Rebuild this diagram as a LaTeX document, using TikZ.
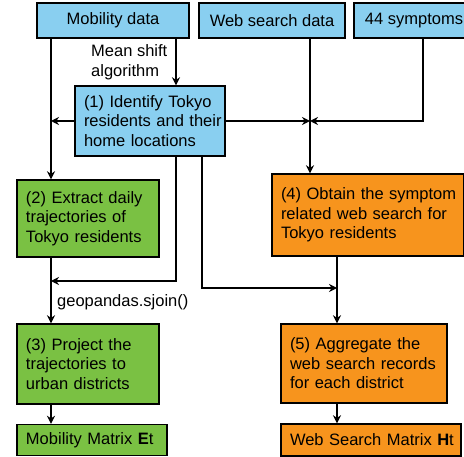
\documentclass[tikz,border=0pt]{standalone}
\usepackage{fontspec}
\setmainfont{Liberation Sans}
\usetikzlibrary{arrows.meta}
\definecolor{cblue}{RGB}{137,207,240}
\definecolor{cgreen}{RGB}{122,193,67}
\definecolor{corange}{RGB}{247,148,29}
\hfuzz=100pt
\begin{document}
\begin{tikzpicture}[x=1pt,y=-1pt,
  every node/.style={font=\fontsize{16.5}{19.5}\selectfont},
  box/.style={draw, line width=1.4pt, inner xsep=9pt, inner ysep=0pt, align=left},
  conn/.style={line width=2pt, -{Stealth[length=8pt,width=8pt]}},
  lbl/.style={inner sep=0pt, align=left, anchor=west}]
\useasboundingbox (0,0) rectangle (464,457);

\coordinate (cL) at (51,0);
\coordinate (cM) at (176,0);
\coordinate (cW) at (310,0);
\coordinate (cS) at (423,0);
\coordinate (cR) at (337,0);
\coordinate (j1) at (176,281);
\coordinate (j2) at (202,288);

\node[box, fill=cblue, align=center, minimum width=152pt, minimum height=35pt] (mob) at (113,20.5) {Mobility data};
\node[box, fill=cblue, align=center, minimum width=146pt, minimum height=35pt] (ws) at (272,20.5) {Web search data};
\node[box, fill=cblue, align=center, minimum width=120pt, minimum height=35pt] (sym) at (414,20.5) {44 symptoms};

\node[box, fill=cblue, text width=132pt, minimum height=70pt] (b1) at (150,121) {\mbox{(1) Identify Tokyo}\\\mbox{residents and their}\\\mbox{home locations}};
\node[box, fill=cgreen, text width=124pt, minimum height=77pt] (b2) at (88,218.5) {\mbox{(2) Extract daily}\\\mbox{trajectories of}\\\mbox{Tokyo residents}};
\node[box, fill=corange, text width=174pt, minimum height=82pt] (b4) at (368,215) {\mbox{(4) Obtain the symptom}\\\mbox{related web search for}\\\mbox{Tokyo residents}};
\node[box, fill=cgreen, text width=124pt, minimum height=80pt] (b3) at (88,364) {\mbox{(3) Project the}\\\mbox{trajectories to}\\\mbox{urban districts}};
\node[box, fill=corange, text width=148pt, minimum height=79pt] (b5) at (364,363.5) {\mbox{(5) Aggregate the}\\\mbox{web search records}\\\mbox{for each district}};
\node[box, fill=cgreen, text width=132pt, minimum height=31pt] (mm) at (92,440) {\mbox{Mobility Matrix \textbf{E}t}};
\node[box, fill=corange, text width=162pt, minimum height=32pt] (wm) at (371,440) {\mbox{Web Search Matrix \textbf{H}t}};

\node[lbl] (lms) at (91,62) {Mean shift\\algorithm};
\node[lbl] (lgeo) at (57,302) {geopandas.sjoin()};

\draw[conn] (mob.south -| cL) -- (b2.north -| cL);
\draw[conn] (mob.south -| cM) -- (b1.north -| cM);
\draw[conn] (ws.south -| cW) -- (b4.north -| cW);
\draw[conn] (b1.west) -- (b1.west -| cL);
\draw[conn] (b1.east) -- (b1.east -| cW);
\draw[conn] (sym.south -| cS) |- (b1.east -| cW);
\draw[conn] (b1.south -| j1) |- (cL |- j1);
\draw[conn] (b1.south -| j2) |- (cR |- j2);
\draw[conn] (b2.south -| cL) -- (b3.north -| cL);
\draw[conn] (b4.south -| cR) -- (b5.north -| cR);
\draw[conn] (b3.south -| cL) -- (mm.north -| cL);
\draw[conn] (b5.south -| cR) -- (wm.north -| cR);
\end{tikzpicture}
\end{document}
